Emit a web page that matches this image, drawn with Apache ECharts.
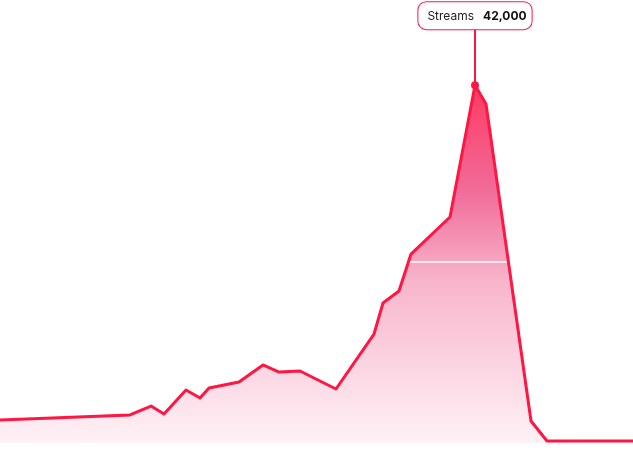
<!DOCTYPE html>
<html>
<head>
<meta charset="utf-8">
<style>
  html, body { margin: 0; padding: 0; background: #fff; }
  #chart { width: 633px; height: 459px; }
</style>
<script src="https://cdn.jsdelivr.net/npm/echarts@6/dist/echarts.min.js"></script>
</head>
<body>
<div id="chart"></div>
<script>
// Time positions (arbitrary day units) and stream counts
const days = [0, 130, 151, 164, 186, 200, 209, 239, 263, 279, 300, 336, 374, 383, 399, 411, 450, 475, 486, 531, 547, 633];
const streams = [2700, 3290, 4340, 3400, 6220, 5280, 6460, 7160, 9160, 8330, 8450, 6340, 12790, 16430, 17840, 22180, 26530, 42000, 39790, 2580, 230, 230];
const seriesName = 'Streams';
const guideValue = 21250;

const points = days.map((d, i) => [d, streams[i]]);
let peakIdx = 0;
streams.forEach((v, i) => { if (v > streams[peakIdx]) peakIdx = i; });
const peak = points[peakIdx];

const chart = echarts.init(document.getElementById('chart'));
chart.setOption({
  animation: false,
  grid: { left: 0, right: 0, top: 0, bottom: 16 },
  xAxis: { type: 'value', min: 0, max: 633, show: false },
  yAxis: { type: 'value', min: 0, max: 52000, show: false },
  series: [
    {
      type: 'line',
      name: seriesName + ' area',
      data: points,
      z: 2,
      showSymbol: false,
      lineStyle: { width: 0 },
      areaStyle: {
        opacity: 1,
        color: new echarts.graphic.LinearGradient(0, 0, 0, 1, [
          { offset: 0, color: 'rgba(255,23,68,0.85)' },
          { offset: 0.3, color: 'rgba(233,30,99,0.65)' },
          { offset: 0.55, color: 'rgba(233,30,99,0.33)' },
          { offset: 1, color: 'rgba(233,30,99,0.06)' }
        ])
      },
      markLine: {
        z: 3,
        silent: true,
        symbol: 'none',
        label: { show: false },
        lineStyle: { color: '#ffffff', width: 1.5, type: 'solid' },
        data: [{ yAxis: guideValue }]
      }
    },
    {
      type: 'line',
      name: seriesName,
      data: points,
      z: 4,
      showSymbol: false,
      lineStyle: { color: '#ff1744', width: 3, join: 'round' },
      markLine: {
        silent: true,
        symbol: 'none',
        label: { show: false },
        lineStyle: { color: '#ff1744', width: 2, type: 'solid' },
        data: [[{ coord: [peak[0], peak[1]] }, { coord: [peak[0], 48600] }]]
      },
      markPoint: {
        symbol: 'circle',
        symbolSize: 8,
        itemStyle: { color: '#ff1744' },
        data: [{ coord: peak, value: peak[1] }],
        label: {
          show: true,
          position: 'top',
          distance: 52,
          formatter: p => '{a|' + seriesName + '}{b|' + Number(p.value).toLocaleString('en-US') + '}',
          backgroundColor: '#ffffff',
          borderColor: '#ff1744',
          borderWidth: 1,
          borderRadius: 8,
          padding: [8, 5, 7, 9],
          rich: {
            a: { fontFamily: 'Inter', fontSize: 12, color: '#222', padding: [0, 9, 0, 0] },
            b: { fontFamily: 'Inter', fontSize: 12, fontWeight: 'bold', color: '#111' }
          }
        }
      }
    }
  ]
});
</script>
</body>
</html>
